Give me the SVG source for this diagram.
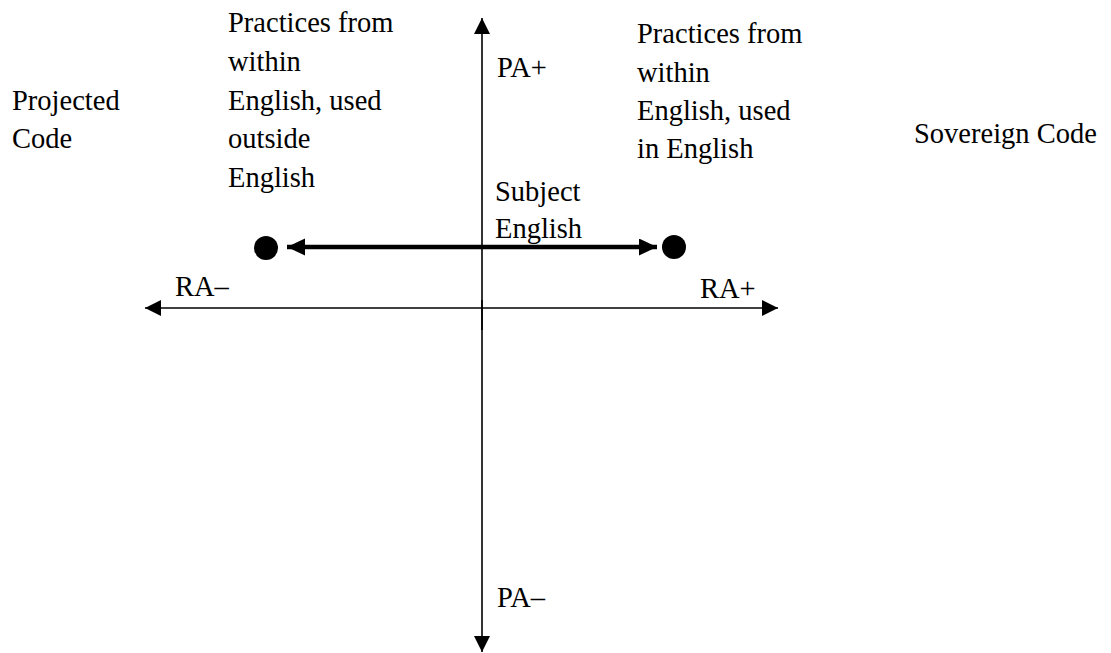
<svg xmlns="http://www.w3.org/2000/svg" width="1111" height="653" viewBox="0 0 1111 653">
<style>
.ax{stroke:#000;stroke-width:1.6;fill:none}
.thick{stroke:#000;stroke-width:4.5;fill:none}
</style>
<defs>
<marker id="ah" markerUnits="userSpaceOnUse" markerWidth="18" markerHeight="16" refX="16" refY="8" orient="auto"><path d="M0,0 L16,8 L0,16 Z" fill="#000"/></marker>
<marker id="ahb" markerUnits="userSpaceOnUse" markerWidth="20" markerHeight="18" refX="18" refY="8.5" orient="auto"><path d="M0,0 L18,8.5 L0,17 Z" fill="#000"/></marker>
</defs>
<rect width="1111" height="653" fill="#fff"/>
<g id="connectors">
<line class="ax" x1="482" y1="330" x2="482" y2="18" marker-end="url(#ah)"/>
<line class="ax" x1="482" y1="300" x2="482" y2="652" marker-end="url(#ah)"/>
<line class="ax" x1="482" y1="308" x2="145" y2="308" marker-end="url(#ah)"/>
<line class="ax" x1="482" y1="308" x2="778" y2="308" marker-end="url(#ah)"/>
<line class="thick" x1="470" y1="247" x2="287" y2="247" marker-end="url(#ahb)"/>
<line class="thick" x1="470" y1="247" x2="657" y2="247" marker-end="url(#ahb)"/>
</g>
<g id="dot-left"><circle cx="266" cy="248" r="12" fill="#000"/></g>
<g id="dot-right"><circle cx="674" cy="247" r="12" fill="#000"/></g>
<g font-family="'Liberation Serif', 'Times New Roman', serif" font-size="28.5" fill="#000">
<g id="projected-code"><text x="12" y="110">Projected</text><text x="12" y="148">Code</text></g>
<g id="practices-outside"><text x="228" y="32">Practices from</text><text x="228" y="71">within</text><text x="228" y="110">English, used</text><text x="228" y="148">outside</text><text x="228" y="187">English</text></g>
<g id="practices-inside"><text x="637" y="43">Practices from</text><text x="637" y="82">within</text><text x="637" y="120">English, used</text><text x="637" y="158">in English</text></g>
<g id="sovereign-code"><text x="914" y="143">Sovereign Code</text></g>
<g id="subject-english"><text x="495" y="201">Subject</text><text x="495" y="238">English</text></g>
<g id="labels"><text x="497" y="77">PA+</text><text x="497" y="607">PA–</text><text x="175" y="296">RA–</text><text x="700" y="298">RA+</text></g>
</g>
</svg>
